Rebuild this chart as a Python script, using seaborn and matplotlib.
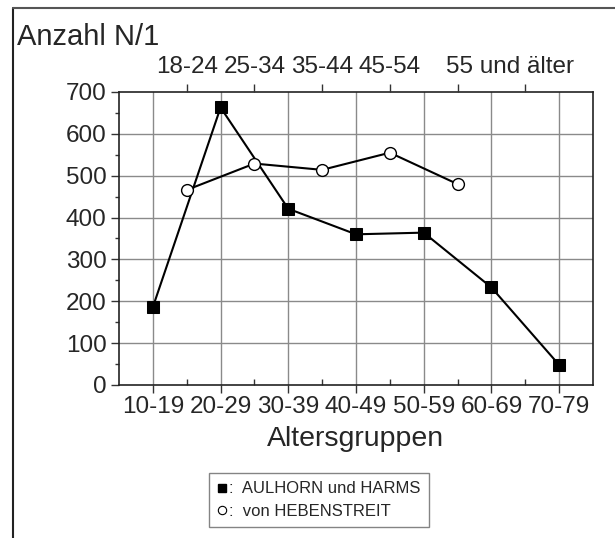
import numpy as np
import pandas as pd
import matplotlib
matplotlib.use("Agg")
import matplotlib.pyplot as plt
from matplotlib.lines import Line2D
import matplotlib.transforms as mtransforms
import seaborn as sns

# ---- data ----
bottom_categories = ["10-19", "20-29", "30-39", "40-49", "50-59", "60-69", "70-79"]
aulhorn_values = [186, 663, 421, 360, 364, 233, 48]

top_categories = ["18-24", "25-34", "35-44", "45-54", "55 und älter"]
hebenstreit_values = [466, 529, 514, 555, 480]
top_label_slots = ["18-24", "25-34", "35-44", "45-54", "", ""]
last_top_label = "55 und älter"

y_ticks = [0, 100, 200, 300, 400, 500, 600, 700]

sns.set_theme(style="white")
plt.rcParams['font.family'] = ['Liberation Sans', 'DejaVu Sans']

fig = plt.figure(figsize=(6.15, 5.38), dpi=100)
ax = fig.add_axes([0.1935, 0.2844, 0.9642 - 0.1935, 0.829 - 0.2844])

pos_a = np.arange(len(bottom_categories)) + 1.0
pos_h = np.arange(len(top_categories)) + 1.5
df_a = pd.DataFrame({"x": pos_a, "y": aulhorn_values})
df_h = pd.DataFrame({"x": pos_h, "y": hebenstreit_values})

ax.set_xlim(0.5, 7.5)
ax.set_ylim(0, 700)

# grid
for v in pos_a:
    ax.axvline(v, color="#8a8a8a", lw=1.0, zorder=0)
for v in y_ticks[1:-1]:
    ax.axhline(v, color="#8a8a8a", lw=1.0, zorder=0)

sns.lineplot(data=df_a, x="x", y="y", ax=ax, color="black", lw=1.5,
             marker="s", markersize=8.5, markerfacecolor="black",
             markeredgecolor="black", sort=False, zorder=3)
sns.lineplot(data=df_h, x="x", y="y", ax=ax, color="black", lw=1.5,
             marker="o", markersize=8.5, markerfacecolor="white",
             markeredgecolor="black", markeredgewidth=1.0, sort=False, zorder=4)

ax.set_xlim(0.5, 7.5)
ax.set_ylim(0, 700)
ax.set_xlabel("Altersgruppen", fontsize=20.5, labelpad=6)
ax.set_ylabel("")

ax.set_xticks(pos_a)
ax.set_xticklabels(bottom_categories, fontsize=17.5)
ax.set_xticks(np.arange(1.5, 7.0, 1.0), minor=True)
ax.set_yticks(y_ticks)
ax.set_yticklabels([str(v) for v in y_ticks], fontsize=17.5)
ax.set_yticks(np.arange(50, 700, 100), minor=True)

ax.tick_params(axis="x", which="major", direction="out", length=6, width=1,
               color="#333333", pad=2, bottom=True)
ax.tick_params(axis="x", which="minor", direction="in", length=4, width=1,
               color="#333333", bottom=True)
ax.tick_params(axis="y", which="major", direction="out", length=6, width=1,
               color="#333333", pad=3, left=True)
ax.tick_params(axis="y", which="minor", direction="out", length=3, width=1,
               color="#333333", left=True)

for s in ax.spines.values():
    s.set_visible(True)
    s.set_color("#222222")
    s.set_linewidth(1.2)

# top axis
ax2 = ax.twiny()
ax2.set_xlim(0.5, 7.5)
ax2.set_xticks(np.arange(len(top_label_slots)) + 1.5)
ax2.set_xticklabels(top_label_slots, fontsize=17.5)
ax2.tick_params(axis="x", which="major", direction="out", length=6, width=1,
                color="#333333", pad=4, top=True)
ax2.grid(False)
for s in ax2.spines.values():
    s.set_visible(False)
trans = mtransforms.blended_transform_factory(ax2.transData, ax2.transAxes)
ax2.text(6.27, 1.0 + 14 / 294, last_top_label, transform=trans, fontsize=17.5,
         ha="center", va="bottom")

# y label at top-left
fig.text(0.027, 0.958, "Anzahl N/1", fontsize=21, ha="left", va="top")

# figure frame (left and top)
fig.add_artist(Line2D([13 / 615, 13 / 615], [0, 1 - 8 / 538], transform=fig.transFigure,
                      color="#222222", lw=1.5))
fig.add_artist(Line2D([13 / 615, 1], [1 - 8 / 538, 1 - 8 / 538], transform=fig.transFigure,
                      color="#555555", lw=1.5))

# legend
handles = [
    Line2D([], [], ls="none", marker="s", markersize=6, markerfacecolor="black",
           markeredgecolor="black"),
    Line2D([], [], ls="none", marker="o", markersize=6, markerfacecolor="white",
           markeredgecolor="black", markeredgewidth=0.8),
]
labels = [":  AULHORN und HARMS", ":  von HEBENSTREIT"]
leg = fig.legend(handles, labels, loc="upper left",
                 bbox_to_anchor=(209 / 615, 1 - 473 / 538),
                 fontsize=12, frameon=True, fancybox=False, borderaxespad=0,
                 handlelength=0.6, handletextpad=0.1, labelspacing=0.45,
                 borderpad=0.5)
leg.get_frame().set_edgecolor("#666666")
leg.get_frame().set_linewidth(1.0)

fig.savefig("out.png", dpi=100)
